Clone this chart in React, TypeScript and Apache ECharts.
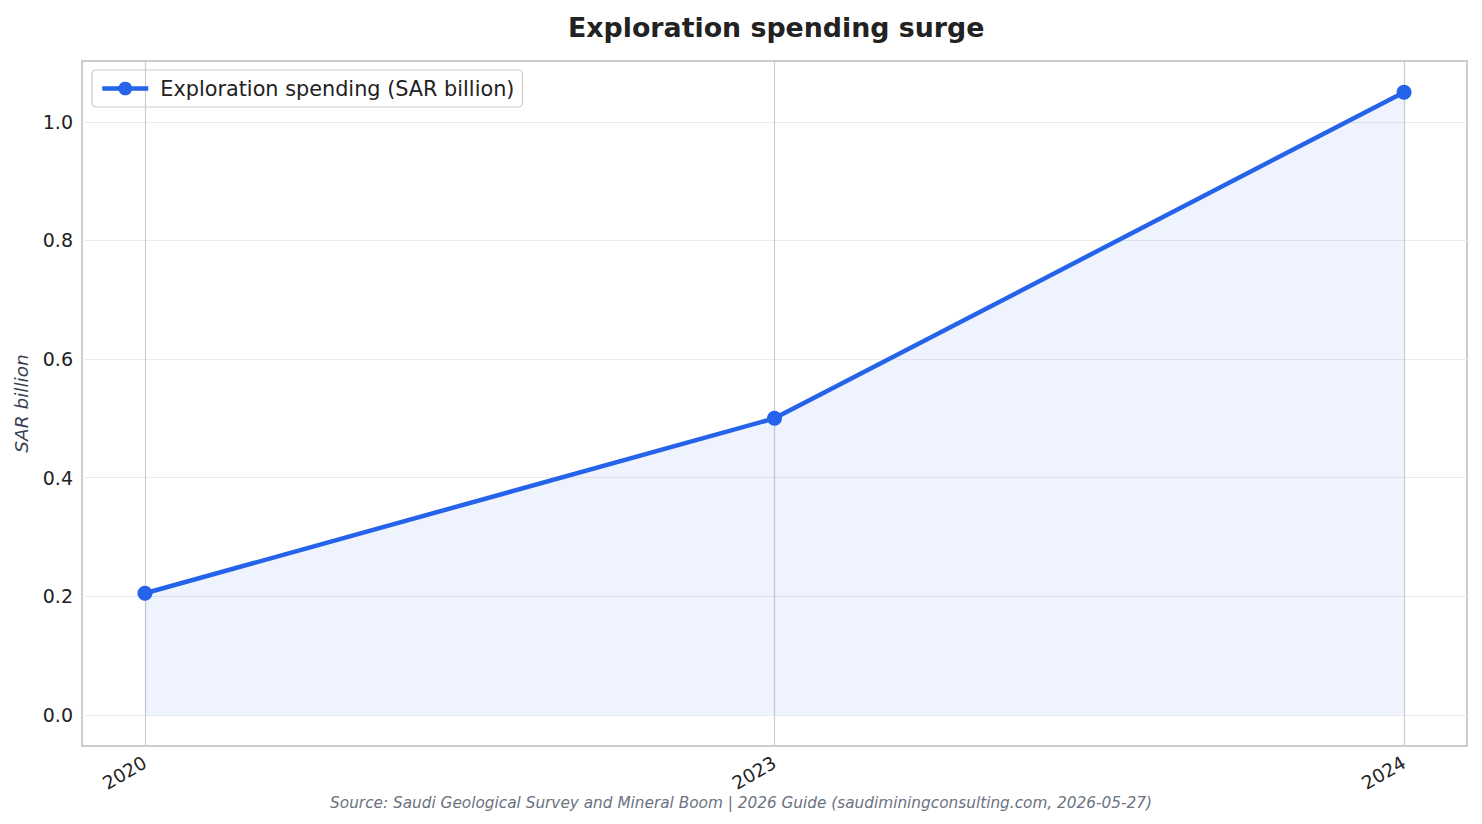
import { useEffect, useRef } from 'react'
import * as echarts from 'echarts'

const years = ['2020', '2023', '2024']
const spending = [0.205, 0.5, 1.05]
const yTicks = [0, 0.2, 0.4, 0.6, 0.8, 1.0]

const FONT = '"DejaVu Sans", sans-serif'
const BLUE = '#2563eb'

export default function App() {
  const chartRef = useRef<HTMLDivElement | null>(null)

  useEffect(() => {
    if (!chartRef.current) {
      return
    }

    const chart = echarts.init(chartRef.current, null, { renderer: 'svg' })
    chart.setOption({
      animation: false,
      backgroundColor: '#ffffff',
      textStyle: { fontFamily: FONT },
      title: [
        {
          // centred over the plot area, not the page
          text: 'Exploration spending surge',
          left: 563,
          top: 9,
          textStyle: { fontFamily: FONT, fontSize: 26.8, fontWeight: 'bold', color: '#222222' },
        },
        {
          text: 'Source: Saudi Geological Survey and Mineral Boom | 2026 Guide (saudiminingconsulting.com, 2026-05-27)',
          left: 'center',
          top: 790,
          textStyle: { fontFamily: FONT, fontSize: 15.3, fontStyle: 'italic', fontWeight: 'normal', color: '#6b7280' },
        },
      ],
      legend: {
        left: 92,
        top: 70,
        padding: [8, 8],
        borderColor: '#cccccc',
        borderWidth: 1.2,
        borderRadius: 4,
        itemWidth: 46,
        itemHeight: 17,
        itemGap: 10,
        lineStyle: { width: 4.5 },
        textStyle: { fontFamily: FONT, fontSize: 20.8, color: '#222222', padding: [0, 0, 0, 7] },
        data: ['Exploration spending (SAR billion)'],
      },
      grid: {
        left: 82,
        right: 15,
        top: 61,
        bottom: 78,
        show: true,
        borderColor: '#cccccc',
        borderWidth: 2,
      },
      xAxis: {
        type: 'value',
        min: -0.1,
        max: 2.1,
        axisLine: { show: false },
        axisTick: { show: false, customValues: [0, 1, 2] },
        axisLabel: {
          customValues: [0, 1, 2],
          rotate: 30,
          margin: 15,
          fontFamily: FONT,
          fontSize: 18.5,
          color: '#222222',
          formatter: (v: number) => years[Math.round(v)] ?? '',
        },
        splitLine: { show: true, lineStyle: { color: '#cccccc', width: 1.2 } },
      },
      yAxis: {
        type: 'value',
        min: -0.0525,
        max: 1.1025,
        name: 'SAR billion',
        nameLocation: 'middle',
        nameGap: 51,
        nameRotate: 90,
        nameTextStyle: { fontFamily: FONT, fontSize: 18.5, fontStyle: 'italic', color: '#374151' },
        axisLine: { show: false },
        axisTick: { show: false, customValues: yTicks },
        axisLabel: {
          customValues: yTicks,
          margin: 9,
          fontFamily: FONT,
          fontSize: 19,
          color: '#222222',
          formatter: (v: number) => v.toFixed(1),
        },
        splitLine: { show: true, lineStyle: { color: '#ebebeb', width: 1.2 } },
      },
      series: [
        {
          name: 'Exploration spending (SAR billion)',
          type: 'line',
          data: spending.map((v, i) => [i, v]),
          symbol: 'circle',
          symbolSize: 15,
          itemStyle: { color: BLUE },
          lineStyle: { color: BLUE, width: 4.5 },
          areaStyle: { color: BLUE, opacity: 0.08, origin: 0 },
        },
      ],
    })

    return () => {
      chart.dispose()
    }
  }, [])

  return <div ref={chartRef} style={{ width: 1482, height: 824, margin: -8 }} />
}
